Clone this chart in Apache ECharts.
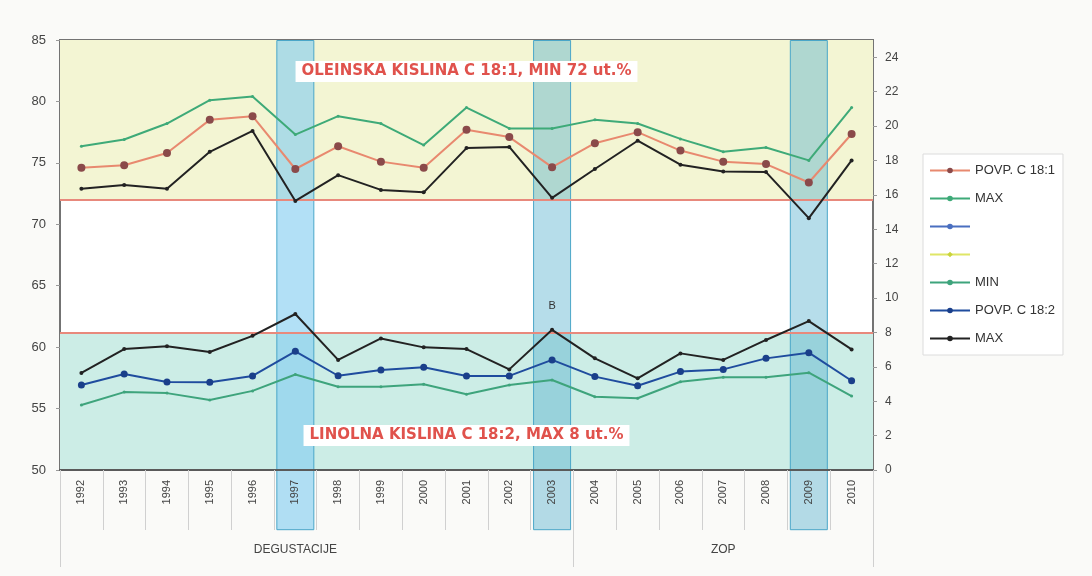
<!DOCTYPE html>
<html>
<head>
<meta charset="utf-8">
<script src="https://cdn.jsdelivr.net/npm/echarts@6/dist/echarts.min.js"></script>
<style>
  html, body { margin: 0; padding: 0; background: #fafaf8; }
  #chart { width: 1092px; height: 576px; }
</style>
</head>
<body>
<div id="chart"></div>
<script>
// categories
const years = ['1992', '1993', '1994', '1995', '1996', '1997', '1998', '1999', '2000', '2001',
  '2002', '2003', '2004', '2005', '2006', '2007', '2008', '2009', '2010'];

// C 18:1 (left axis)
const avg181 = [74.6, 74.8, 75.8, 78.5, 78.8, 74.5, 76.35, 75.1, 74.6, 77.7, 77.1, 74.65, 76.6, 77.5, 76.0, 75.1, 74.9, 73.4, 77.35];
const max181 = [76.35, 76.9, 78.2, 80.1, 80.4, 77.3, 78.8, 78.2, 76.45, 79.5, 77.8, 77.8, 78.5, 78.2, 76.95, 75.9, 76.25, 75.2, 79.5];
const min181 = [72.9, 73.2, 72.9, 75.9, 77.6, 71.9, 74.0, 72.8, 72.6, 76.2, 76.3, 72.15, 74.5, 76.8, 74.85, 74.3, 74.25, 70.5, 75.2];

// C 18:2 (right axis)
const min182 = [3.78, 4.53, 4.47, 4.07, 4.6, 5.55, 4.84, 4.84, 4.98, 4.4, 4.94, 5.23, 4.26, 4.17, 5.13, 5.39, 5.39, 5.66, 4.3];
const avg182 = [4.94, 5.58, 5.12, 5.1, 5.47, 6.9, 5.48, 5.81, 5.97, 5.47, 5.47, 6.4, 5.43, 4.9, 5.72, 5.85, 6.49, 6.82, 5.19];
const max182 = [5.64, 7.03, 7.2, 6.86, 7.8, 9.07, 6.4, 7.65, 7.13, 7.03, 5.85, 8.15, 6.49, 5.33, 6.78, 6.4, 7.56, 8.66, 7.01];

// limits, highlighted years, groups
const limit181 = 72;
const limit182 = 8;
const highlightYears = ['1997', '2003', '2009'];
const noteYear = '2003';
const noteText = 'B';
const groupNames = ['DEGUSTACIJE', 'ZOP'];
const groupLabelYears = ['1997', '2007'];
const groupStartYears = ['1992', '2004'];
const title181 = 'OLEINSKA KISLINA C 18:1, MIN 72 ut.%';
const title182 = 'LINOLNA KISLINA C 18:2, MAX 8 ut.%';

const font = 'Arial, "Liberation Sans", sans-serif';
const myChart = echarts.init(document.getElementById('chart'));

const hlColors = {
  '1997': 'rgba(130,205,240,0.62)',
  '2003': 'rgba(80,175,205,0.42)',
  '2009': 'rgba(80,175,205,0.42)'
};

function hlData(val) {
  return years.map(y => highlightYears.indexOf(y) >= 0
    ? { value: val, itemStyle: { color: hlColors[y] } }
    : null);
}

function lineSeries(name, data, yAxisIndex, lineColor, symbolColor, symbolSize, extra) {
  return Object.assign({
    name: name,
    type: 'line',
    yAxisIndex: yAxisIndex,
    data: data,
    z: 5,
    symbol: 'circle',
    symbolSize: symbolSize,
    showSymbol: true,
    lineStyle: { color: lineColor, width: 2 },
    itemStyle: { color: symbolColor },
    emphasis: { disabled: true }
  }, extra || {});
}

function titleLabel(text, position, distance) {
  return {
    show: true, position: position, distance: distance, formatter: text,
    color: '#e0524c', fontWeight: 'bold', fontSize: 15, fontFamily: '"DejaVu Sans", sans-serif',
    backgroundColor: '#ffffff', padding: [3, 6]
  };
}

const max182Data = max182.map((v, i) => years[i] === noteYear
  ? { value: v, label: { show: true, formatter: noteText, position: 'top', distance: 16, fontSize: 11, color: '#333', fontFamily: font } }
  : v);

const chartOption = {
  backgroundColor: '#fafaf8',
  animation: false,
  textStyle: { fontFamily: font },
  grid: {
    left: 60, right: 219, top: 40, bottom: 106,
    show: true,
    backgroundColor: '#ffffff',
    borderColor: '#737373',
    borderWidth: 2
  },
  legend: {
    orient: 'vertical',
    left: 923,
    top: 154,
    itemWidth: 40,
    itemHeight: 7,
    itemGap: 15,
    padding: [10, 8, 10, 6],
    borderColor: '#dcdcdc',
    borderWidth: 1,
    backgroundColor: '#ffffff',
    textStyle: { fontSize: 13, color: '#333', fontFamily: font },
    data: ['POVP. C 18:1', 'MAX', ' ', '  ', 'MIN', 'POVP. C 18:2', 'MAX ']
  },
  xAxis: [
    {
      type: 'category',
      data: years,
      position: 'bottom',
      z: 6,
      axisLine: { show: true, lineStyle: { color: '#5a5a5a', width: 2 } },
      axisTick: { show: true, interval: 0, length: 60, lineStyle: { color: '#d0d0d0' } },
      axisLabel: { interval: 0, rotate: 90, margin: 10, fontSize: 11, color: '#444' },
      splitLine: { show: false }
    },
    {
      type: 'category',
      data: years,
      position: 'bottom',
      axisLine: { show: false },
      axisTick: {
        show: true,
        length: 97,
        interval: (idx, val) => groupStartYears.indexOf(val) >= 0,
        lineStyle: { color: '#d0d0d0' }
      },
      axisLabel: {
        interval: 0,
        margin: 74,
        fontSize: 12,
        color: '#444',
        formatter: v => {
          const k = groupLabelYears.indexOf(v);
          return k >= 0 ? groupNames[k] : '';
        }
      },
      splitLine: { show: false }
    }
  ],
  yAxis: [
    {
      type: 'value',
      position: 'left',
      min: 50, max: 85, interval: 5,
      axisLine: { show: true, lineStyle: { color: '#737373', width: 2 } },
      axisTick: { show: true, length: 4, lineStyle: { color: '#999' } },
      axisLabel: { fontSize: 13, color: '#444', margin: 14 },
      splitLine: { show: false }
    },
    {
      type: 'value',
      position: 'right',
      min: 0, max: 25, interval: 2,
      axisLine: { show: true, lineStyle: { color: '#737373', width: 2 } },
      axisTick: { show: true, length: 4, lineStyle: { color: '#999' } },
      axisLabel: { fontSize: 12, color: '#444', margin: 12, showMaxLabel: false },
      splitLine: { show: false }
    },
    { type: 'value', show: false, min: 0, max: 100 }
  ],
  series: [
    // bands + limit lines
    {
      name: 'band181', type: 'line', yAxisIndex: 0, data: years.map(() => null), z: 1,
      markArea: {
        silent: true, z: 1,
        itemStyle: { color: '#f3f5d3' },
        data: [[{ yAxis: limit181 }, { yAxis: 85 }]]
      },
      markLine: {
        silent: true, symbol: 'none', label: { show: false },
        lineStyle: { color: '#e8897c', width: 2, type: 'solid' },
        data: [{ yAxis: limit181 }]
      }
    },
    {
      name: 'band182', type: 'line', yAxisIndex: 1, data: years.map(() => null), z: 1,
      markArea: {
        silent: true, z: 1,
        itemStyle: { color: '#ccede6' },
        data: [[{ yAxis: 0 }, { yAxis: limit182 }]]
      },
      markLine: {
        silent: true, symbol: 'none', label: { show: false },
        lineStyle: { color: '#e8897c', width: 2, type: 'solid' },
        data: [{ yAxis: limit182 }]
      }
    },
    // highlighted year columns
    {
      name: 'hlTop', type: 'bar', yAxisIndex: 2, stack: 'hl', barWidth: 38, clip: false, z: 2,
      silent: true,
      itemStyle: { borderColor: '#4aa6c8', borderWidth: 1 },
      data: hlData(100)
    },
    {
      name: 'hlBottom', type: 'bar', yAxisIndex: 2, stack: 'hl', barWidth: 38, clip: false, z: 2,
      silent: true,
      itemStyle: { borderColor: '#4aa6c8', borderWidth: 1 },
      data: hlData(-14)
    },
    // band titles above the columns
    {
      name: 'title181', type: 'line', yAxisIndex: 0, data: years.map(() => null), z: 4,
      markArea: {
        silent: true, z: 4,
        itemStyle: { color: 'rgba(0,0,0,0)' },
        label: titleLabel(title181, 'insideTop', 21),
        data: [[{ yAxis: limit181 }, { yAxis: 85 }]]
      }
    },
    {
      name: 'title182', type: 'line', yAxisIndex: 1, data: years.map(() => null), z: 4,
      markArea: {
        silent: true, z: 4,
        itemStyle: { color: 'rgba(0,0,0,0)' },
        label: titleLabel(title182, 'insideBottom', 24),
        data: [[{ yAxis: 0 }, { yAxis: limit182 }]]
      }
    },
    // C 18:1
    lineSeries('POVP. C 18:1', avg181, 0, '#e8896f', '#8a4a4a', 8),
    lineSeries('MAX', max181, 0, '#3eaa78', '#3eaa78', 3),
    lineSeries('MIN C 18:1', min181, 0, '#222222', '#222222', 4),
    // legend-only entries
    lineSeries(' ', [], 0, '#4a6fc0', '#4a6fc0', 4),
    lineSeries('  ', [], 0, '#dfe667', '#c9d33a', 6, { symbol: 'diamond' }),
    // C 18:2
    lineSeries('MIN', min182, 1, '#3ea47c', '#3ea47c', 3),
    lineSeries('POVP. C 18:2', avg182, 1, '#1f4c9e', '#1a3f8a', 7),
    lineSeries('MAX ', max182Data, 1, '#222222', '#222222', 4)
  ]
};

myChart.setOption(chartOption);
</script>
</body>
</html>
